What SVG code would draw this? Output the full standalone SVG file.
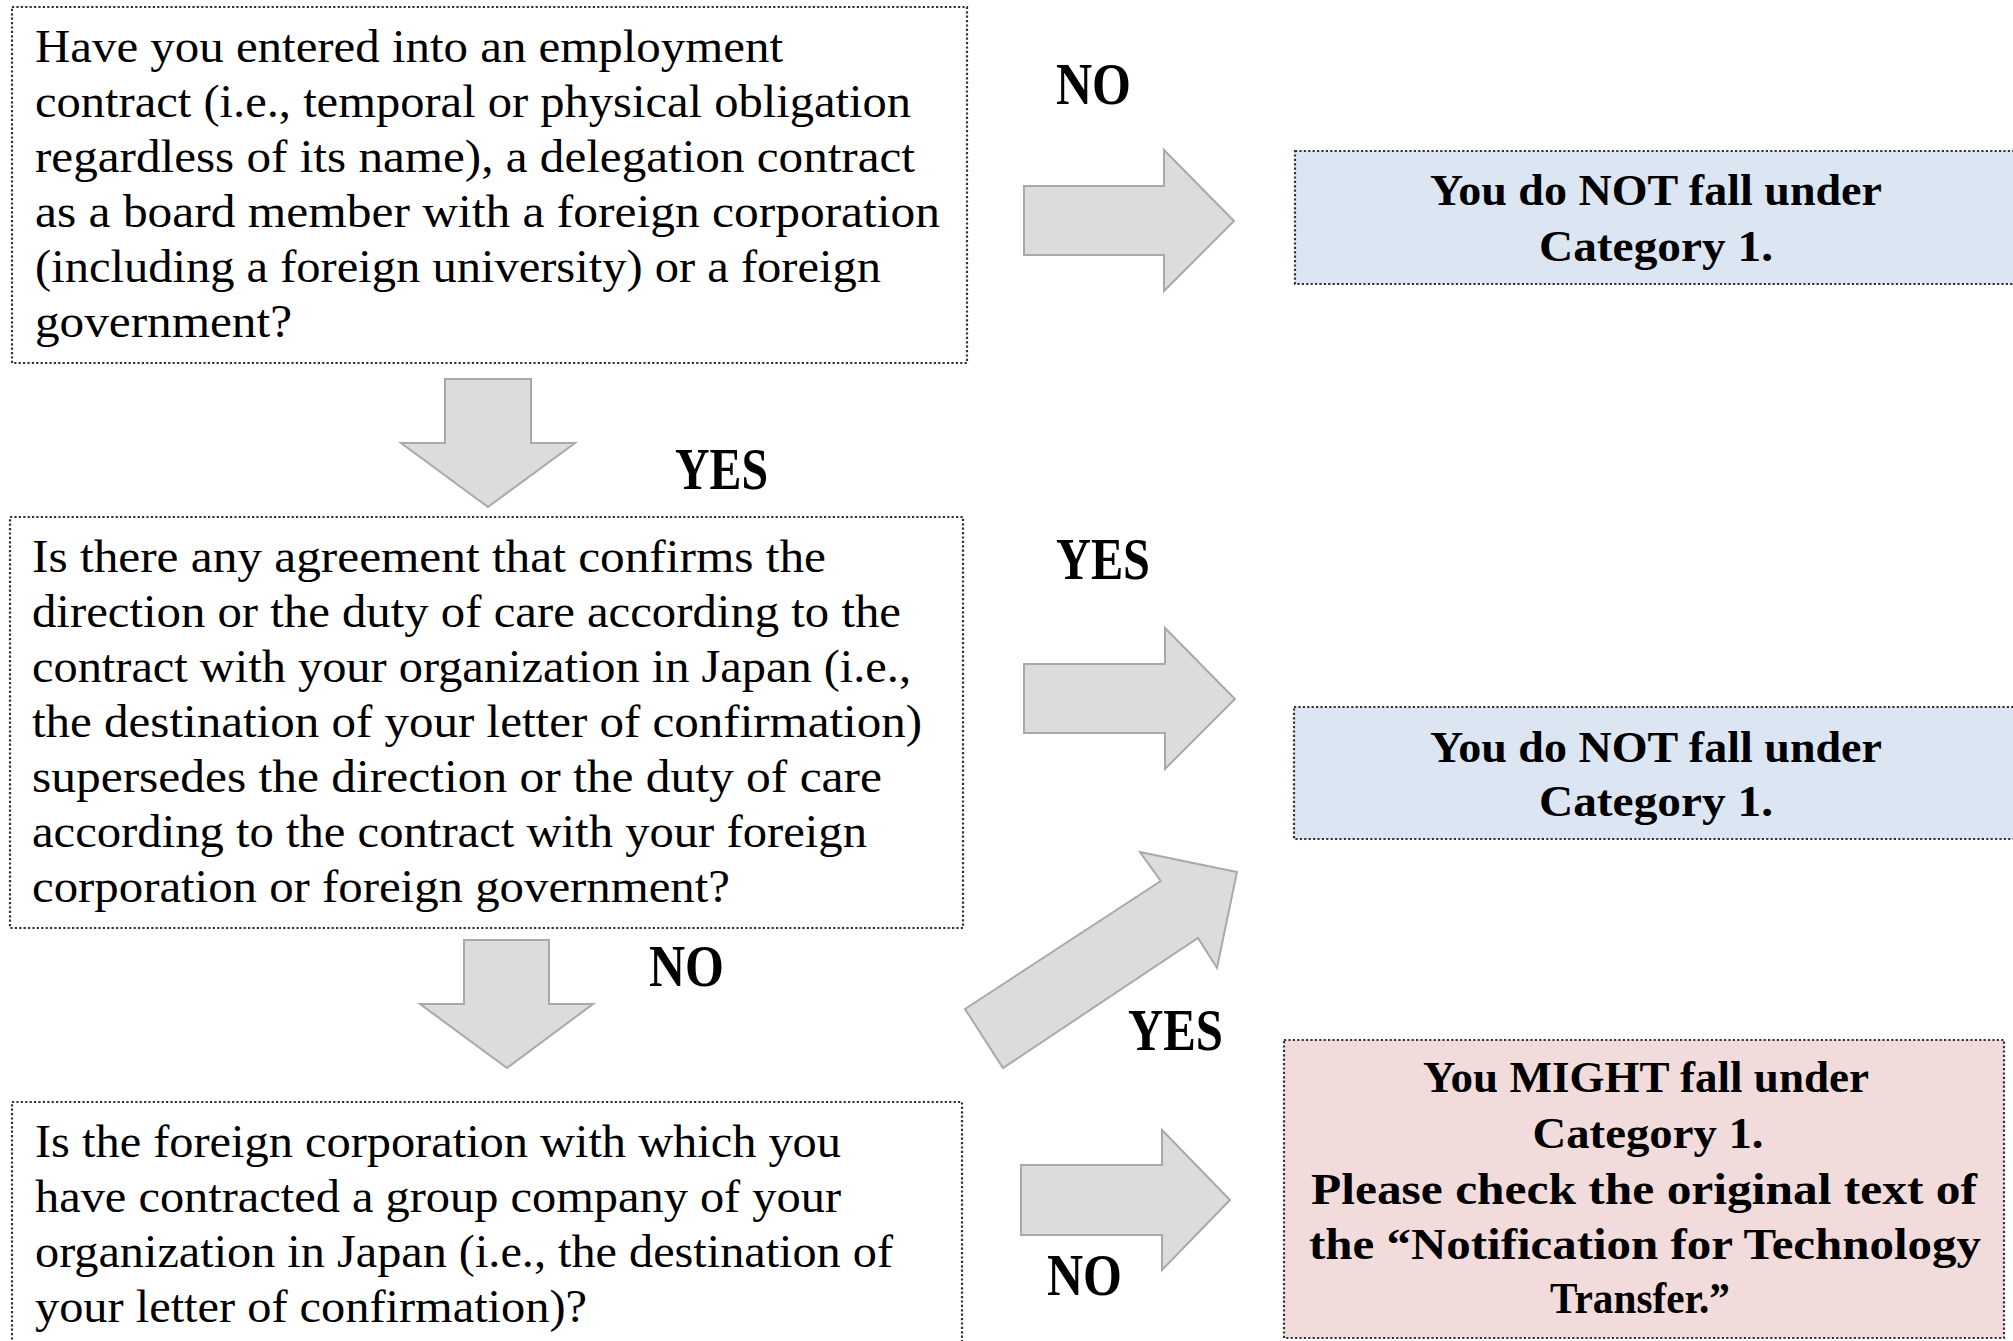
<svg xmlns="http://www.w3.org/2000/svg" width="2013" height="1341" viewBox="0 0 2013 1341">
<style>
.box{fill:#ffffff;stroke:#333333;stroke-width:2.2;stroke-dasharray:2.2 2.2}
.blue{fill:#dce6f2;stroke:#333333;stroke-width:2.2;stroke-dasharray:2.2 2.2}
.pink{fill:#f2dcdb;stroke:#333333;stroke-width:2.2;stroke-dasharray:2.2 2.2}
.q{font-family:"Liberation Serif","Times New Roman",serif;font-size:46px;fill:#000}
.r{font-family:"Liberation Serif","Times New Roman",serif;font-size:45px;font-weight:bold;fill:#000;text-anchor:middle}
.lbl{font-family:"Liberation Serif","Times New Roman",serif;font-size:59px;font-weight:bold;fill:#000}
.arr{fill:#dcdcdc;stroke:#a9a9a9;stroke-width:2;stroke-linejoin:miter}
</style>
<rect width="2013" height="1341" fill="#ffffff"/>
<g id="connectors">
<polygon class="arr" points="445,379 531,379 531,443 575,443 488,507 401,443 445,443"/>
<polygon class="arr" points="464,940 549,940 549,1004 593,1004 507,1068 420,1004 464,1004"/>
<polygon class="arr" points="1024,186 1164,186 1164,150 1234,221 1164,291 1164,255 1024,255"/>
<polygon class="arr" points="1024,664 1165,664 1165,628 1235,699 1165,769 1165,733 1024,733"/>
<polygon class="arr" points="1021,1165 1162,1165 1162,1130 1230,1200 1162,1270 1162,1235 1021,1235"/>
<polygon class="arr" points="965,1009 1160.7,881 1140,852 1237,872 1217,968 1198,938 1003,1068"/>
<text class="lbl" x="1056" y="104" textLength="75" lengthAdjust="spacingAndGlyphs">NO</text>
<text class="lbl" x="675" y="489" textLength="93" lengthAdjust="spacingAndGlyphs">YES</text>
<text class="lbl" x="1056" y="579" textLength="94" lengthAdjust="spacingAndGlyphs">YES</text>
<text class="lbl" x="649" y="986" textLength="75" lengthAdjust="spacingAndGlyphs">NO</text>
<text class="lbl" x="1128" y="1050" textLength="95" lengthAdjust="spacingAndGlyphs">YES</text>
<text class="lbl" x="1047" y="1295" textLength="75" lengthAdjust="spacingAndGlyphs">NO</text>
</g>
<g id="q1">
<rect class="box" x="12" y="7" width="955" height="356"/>
<text class="q" x="35" y="62" textLength="748" lengthAdjust="spacingAndGlyphs">Have you entered into an employment</text>
<text class="q" x="35" y="117" textLength="876" lengthAdjust="spacingAndGlyphs">contract (i.e., temporal or physical obligation</text>
<text class="q" x="35" y="172" textLength="880" lengthAdjust="spacingAndGlyphs">regardless of its name), a delegation contract</text>
<text class="q" x="35" y="227" textLength="905" lengthAdjust="spacingAndGlyphs">as a board member with a foreign corporation</text>
<text class="q" x="35" y="282" textLength="846" lengthAdjust="spacingAndGlyphs">(including a foreign university) or a foreign</text>
<text class="q" x="35" y="337" textLength="257" lengthAdjust="spacingAndGlyphs">government?</text>
</g>
<g id="q2">
<rect class="box" x="10" y="517" width="953" height="411"/>
<text class="q" x="32" y="572" textLength="794" lengthAdjust="spacingAndGlyphs">Is there any agreement that confirms the</text>
<text class="q" x="32" y="627" textLength="869" lengthAdjust="spacingAndGlyphs">direction or the duty of care according to the</text>
<text class="q" x="32" y="682" textLength="879" lengthAdjust="spacingAndGlyphs">contract with your organization in Japan (i.e.,</text>
<text class="q" x="32" y="737" textLength="890" lengthAdjust="spacingAndGlyphs">the destination of your letter of confirmation)</text>
<text class="q" x="32" y="792" textLength="850" lengthAdjust="spacingAndGlyphs">supersedes the direction or the duty of care</text>
<text class="q" x="32" y="847" textLength="835" lengthAdjust="spacingAndGlyphs">according to the contract with your foreign</text>
<text class="q" x="32" y="902" textLength="698" lengthAdjust="spacingAndGlyphs">corporation or foreign government?</text>
</g>
<g id="q3">
<rect class="box" x="12" y="1102" width="950" height="260"/>
<text class="q" x="35" y="1157" textLength="806" lengthAdjust="spacingAndGlyphs">Is the foreign corporation with which you</text>
<text class="q" x="35" y="1212" textLength="806" lengthAdjust="spacingAndGlyphs">have contracted a group company of your</text>
<text class="q" x="35" y="1267" textLength="858" lengthAdjust="spacingAndGlyphs">organization in Japan (i.e., the destination of</text>
<text class="q" x="35" y="1322" textLength="552" lengthAdjust="spacingAndGlyphs">your letter of confirmation)?</text>
</g>
<g id="r1">
<rect class="blue" x="1295" y="151" width="730" height="133"/>
<text class="r" x="1656" y="205" textLength="452" lengthAdjust="spacingAndGlyphs">You do NOT fall under</text>
<text class="r" x="1656" y="261" textLength="234" lengthAdjust="spacingAndGlyphs">Category 1.</text>
</g>
<g id="r2">
<rect class="blue" x="1294" y="707" width="730" height="132"/>
<text class="r" x="1656" y="762" textLength="452" lengthAdjust="spacingAndGlyphs">You do NOT fall under</text>
<text class="r" x="1656" y="816" textLength="234" lengthAdjust="spacingAndGlyphs">Category 1.</text>
</g>
<g id="r3">
<rect class="pink" x="1284" y="1040" width="720" height="298"/>
<text class="r" x="1646" y="1092" textLength="446" lengthAdjust="spacingAndGlyphs">You MIGHT fall under</text>
<text class="r" x="1648" y="1148" textLength="231" lengthAdjust="spacingAndGlyphs">Category 1.</text>
<text class="r" x="1644" y="1204" textLength="666" lengthAdjust="spacingAndGlyphs">Please check the original text of</text>
<text class="r" x="1645" y="1259" textLength="672" lengthAdjust="spacingAndGlyphs">the “Notification for Technology</text>
<text class="r" x="1640" y="1313" textLength="180" lengthAdjust="spacingAndGlyphs">Transfer.”</text>
</g>
</svg>
